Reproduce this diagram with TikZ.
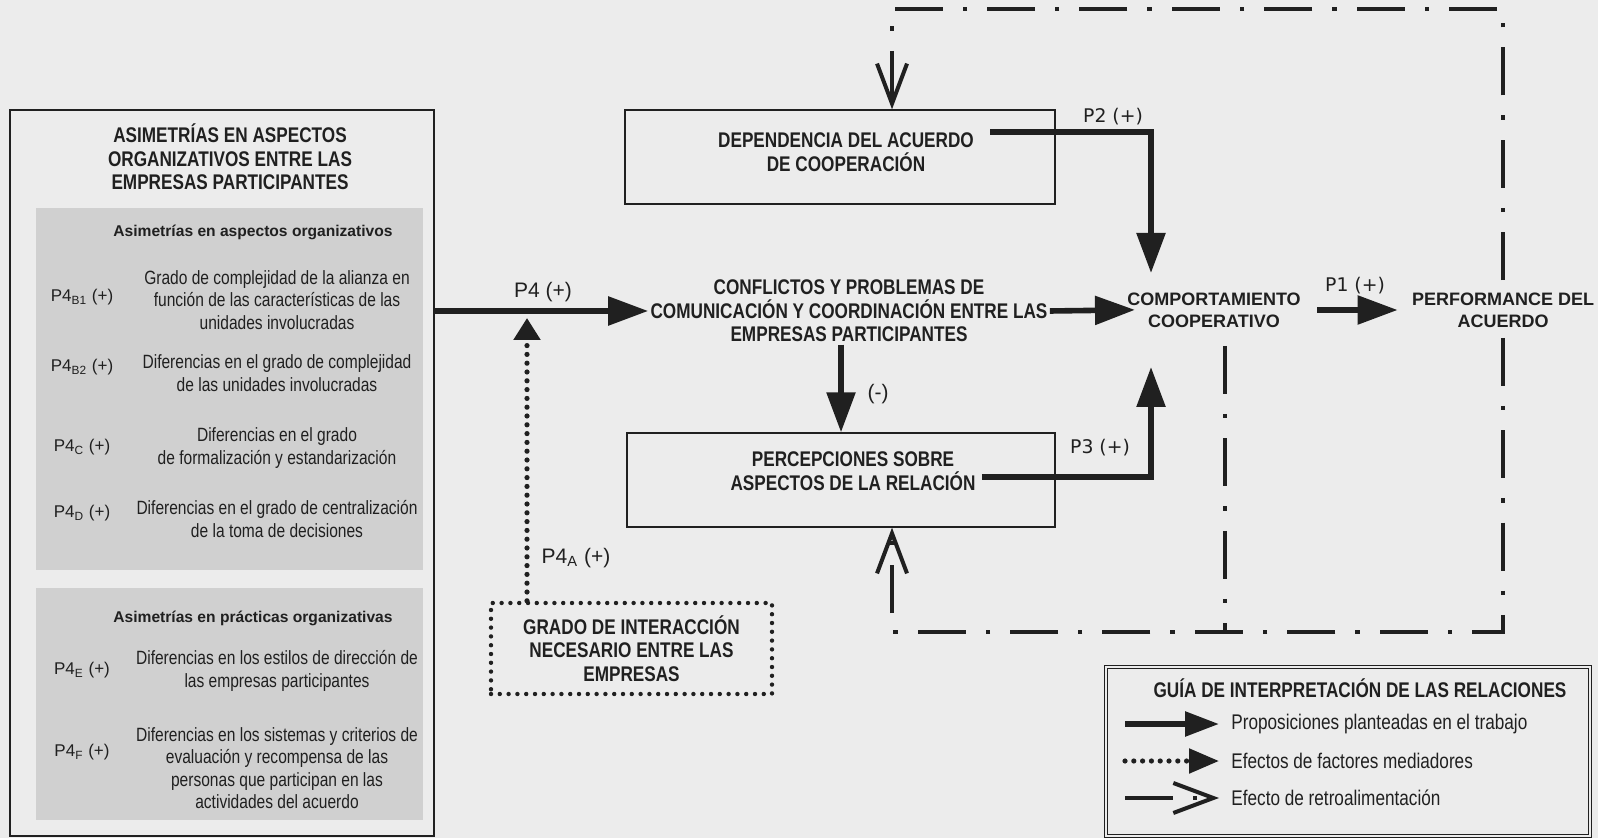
\documentclass[tikz,border=0pt]{standalone}
\usepackage{fontspec}
\setmainfont{Liberation Sans}[FakeStretch=0.81]
\newfontfamily\anchafont{Liberation Sans}
\newfontfamily\verdfont{DejaVu Sans}
\usetikzlibrary{arrows.meta}
\definecolor{fondo}{RGB}{236,236,236}
\definecolor{panel}{RGB}{208,208,208}
\definecolor{tinta}{RGB}{32,32,32}

\begin{document}
\begin{tikzpicture}[x=0.5pt, y=-0.5pt, >=Triangle,
    every node/.style={text=tinta},
    titulo/.style={font=\fontsize{10.6}{11.8}\selectfont\bfseries, align=center, inner sep=1pt},
    texto/.style={font=\fontsize{9.6}{11.2}\selectfont, align=center, inner sep=1pt},
    subtit/.style={font=\anchafont\fontsize{7.8}{9}\selectfont\bfseries, inner sep=1pt},
    etiq/.style={font=\anchafont\fontsize{8.5}{10}\selectfont, inner sep=1pt},
    derecha/.style={font=\anchafont\fontsize{9}{11}\selectfont\bfseries, align=center, inner sep=1pt},
    plab/.style={font=\verdfont\fontsize{9.4}{11}\selectfont, inner sep=1pt},
    p4lab/.style={font=\anchafont\fontsize{10.5}{12}\selectfont, inner sep=1pt},
    leyenda/.style={font=\fontsize{10.6}{12}\selectfont, inner sep=1pt},
    marco/.style={draw=tinta, line width=0.7pt, inner sep=0pt},
    punteado/.style={draw=tinta, line width=2.6pt, line cap=round, dash pattern=on 0pt off 4.4pt},
    prop/.style={draw=tinta, line width=2.8pt, -{Triangle[length=20pt,width=14pt]}},
    medi/.style={punteado, -{Triangle[length=11pt,width=13pt]}},
    retro/.style={draw=tinta, line width=2.2pt, dash pattern=on 24pt off 10pt on 2.2pt off 10pt},
    barb/.style={-{Straight Barb[length=20pt,width=15pt,line width=2pt]}}
  ]
    % Fondo y marco de la imagen
    \fill[fondo] (0,0) rectangle (1598,838);
    \useasboundingbox (0,0) rectangle (1598,838);

    % Bloque de asimetrias
    \node[marco, minimum width=212pt, minimum height=363pt] (asim) at (222,473) {};
    \node[fill=panel, minimum width=193.5pt, minimum height=181pt, inner sep=0pt] (pan1) at (229.5,389) {};
    \node[fill=panel, minimum width=193.5pt, minimum height=116pt, inner sep=0pt] (pan2) at (229.5,704) {};
    \node[titulo] (asimtit) at (230,157) {ASIMETRÍAS EN ASPECTOS\\ORGANIZATIVOS ENTRE LAS\\EMPRESAS PARTICIPANTES};
    \node[subtit] (sub1) at (253,232) {Asimetrías en aspectos organizativos};
    \node[subtit] (sub2) at (253,618) {Asimetrías en prácticas organizativas};

    % Proposiciones P4
    \node[etiq] (pb1) at (82,297) {P4\textsubscript{B1} (+)};
    \node[etiq] (pb2) at (82,367) {P4\textsubscript{B2} (+)};
    \node[etiq] (pc) at (82,447) {P4\textsubscript{C} (+)};
    \node[etiq] (pd) at (82,513) {P4\textsubscript{D} (+)};
    \node[etiq] (pe) at (82,670) {P4\textsubscript{E} (+)};
    \node[etiq] (pf) at (82,752) {P4\textsubscript{F} (+)};
    \node[texto] (tb1) at (277,300) {Grado de complejidad de la alianza en\\función de las características de las\\unidades involucradas};
    \node[texto] (tb2) at (277,373) {Diferencias en el grado de complejidad\\de las unidades involucradas};
    \node[texto] (tc) at (277,448) {Diferencias en el grado\\de formalización y estandarización};
    \node[texto] (td) at (277,519) {Diferencias en el grado de centralización\\de la toma de decisiones};
    \node[texto] (te) at (277,671) {Diferencias en los estilos de dirección de\\las empresas participantes};
    \node[texto] (tf) at (277,768) {Diferencias en los sistemas y criterios de\\evaluación y recompensa de las\\personas que participan en las\\actividades del acuerdo};

    % Cajas del centro
    \node[marco, minimum width=215pt, minimum height=47pt] (dep) at (840,157) {};
    \node[titulo] (deptxt) at (846,152) {DEPENDENCIA DEL ACUERDO\\DE COOPERACIÓN};
    \node[titulo] (conf) at (849,311) {CONFLICTOS Y PROBLEMAS DE\\COMUNICACIÓN Y COORDINACIÓN ENTRE LAS\\EMPRESAS PARTICIPANTES};
    \node[marco, minimum width=214pt, minimum height=47pt] (perc) at (841,480) {};
    \node[titulo] (perctxt) at (853,471) {PERCEPCIONES SOBRE\\ASPECTOS DE LA RELACIÓN};
    \node[titulo, punteado, line width=2.2pt, minimum width=140.5pt, minimum height=45.5pt] (grado) at (631.5,648.5) {GRADO DE INTERACCIÓN\\NECESARIO ENTRE LAS\\EMPRESAS};

    % Resultados
    \node[derecha] (comp) at (1214,310) {COMPORTAMIENTO\\COOPERATIVO};
    \node[derecha] (perf) at (1503,310) {PERFORMANCE DEL\\ACUERDO};

    % Relaciones propuestas
    \coordinate (p4a) at (527,318);
    \coordinate (p2tip) at (1151,273);
    \coordinate (p3tip) at (1151,367);
    \draw[prop] (asim.east |- conf.west) -- (conf.west);
    \draw[medi] (grado.north -| p4a) -- (p4a);
    \draw[prop] (conf.south -| perc.north) -- (perc.north);
    \draw[prop] ([xshift=7pt,yshift=10pt]deptxt.east) -| (p2tip);
    \draw[prop] ([xshift=2pt,yshift=-3pt]perctxt.east) -| (p3tip);
    \draw[prop, shorten >=-5pt] (conf.east) -- (comp.west);
    \draw[prop, shorten <=7pt, shorten >=6pt] (comp.east) -- (perf.west);

    % Rotulos de las relaciones
    \node[p4lab] (lp4) at (543,292) {P4 (+)};
    \node[p4lab] (lp4a) at (576,558) {P4\textsubscript{A} (+)};
    \node[p4lab] (lmen) at (878,394) {(-)};
    \node[plab] (lp1) at (1355,286) {P1 (+)};
    \node[plab] (lp2) at (1113,117) {P2 (+)};
    \node[plab] (lp3) at (1100,448) {P3 (+)};

    % Retroalimentacion
    \coordinate (fbtl) at (892,9);
    \coordinate (fbtr) at (1503,9);
    \coordinate (fbbr) at (1503,632);
    \coordinate (fbbl) at (892,632);
    \coordinate (fbin) at (1225,346);
    \draw[retro, barb, shorten <=5pt] (perf.north) -- (fbtr) -- (fbtl) -- (fbtl |- dep.north);
    \draw[retro, barb, shorten <=4pt] (perf.south) -- (fbbr) -- (fbbl) -- (fbbl |- perc.south);
    \draw[retro] (fbin) -- (fbin |- fbbl);

    % Guia de interpretacion
    \node[draw=tinta, double=fondo, double distance=1.2pt, line width=0.6pt,
          minimum width=242pt, minimum height=84.5pt, inner sep=0pt] (guia) at (1348,751.5) {};
    \node[titulo] (guiatit) at (1360,688) {GUÍA DE INTERPRETACIÓN DE LAS RELACIONES};
    \node[leyenda, anchor=west] (ley1) at (1229,724) {Proposiciones planteadas en el trabajo};
    \node[leyenda, anchor=west] (ley2) at (1229,761) {Efectos de factores mediadores};
    \node[leyenda, anchor=west] (ley3) at (1229,798) {Efecto de retroalimentación};
    \draw[prop, -{Triangle[length=17pt,width=12pt]}, shorten >=5pt] ([xshift=-52pt]ley1.west) -- (ley1.west);
    \draw[medi, -{Triangle[length=15pt,width=12pt]}, shorten >=5pt] ([xshift=-52pt]ley2.west) -- (ley2.west);
    \draw[retro, barb, shorten >=5pt] ([xshift=-52pt]ley3.west) -- (ley3.west);
  \end{tikzpicture}
\end{document}
